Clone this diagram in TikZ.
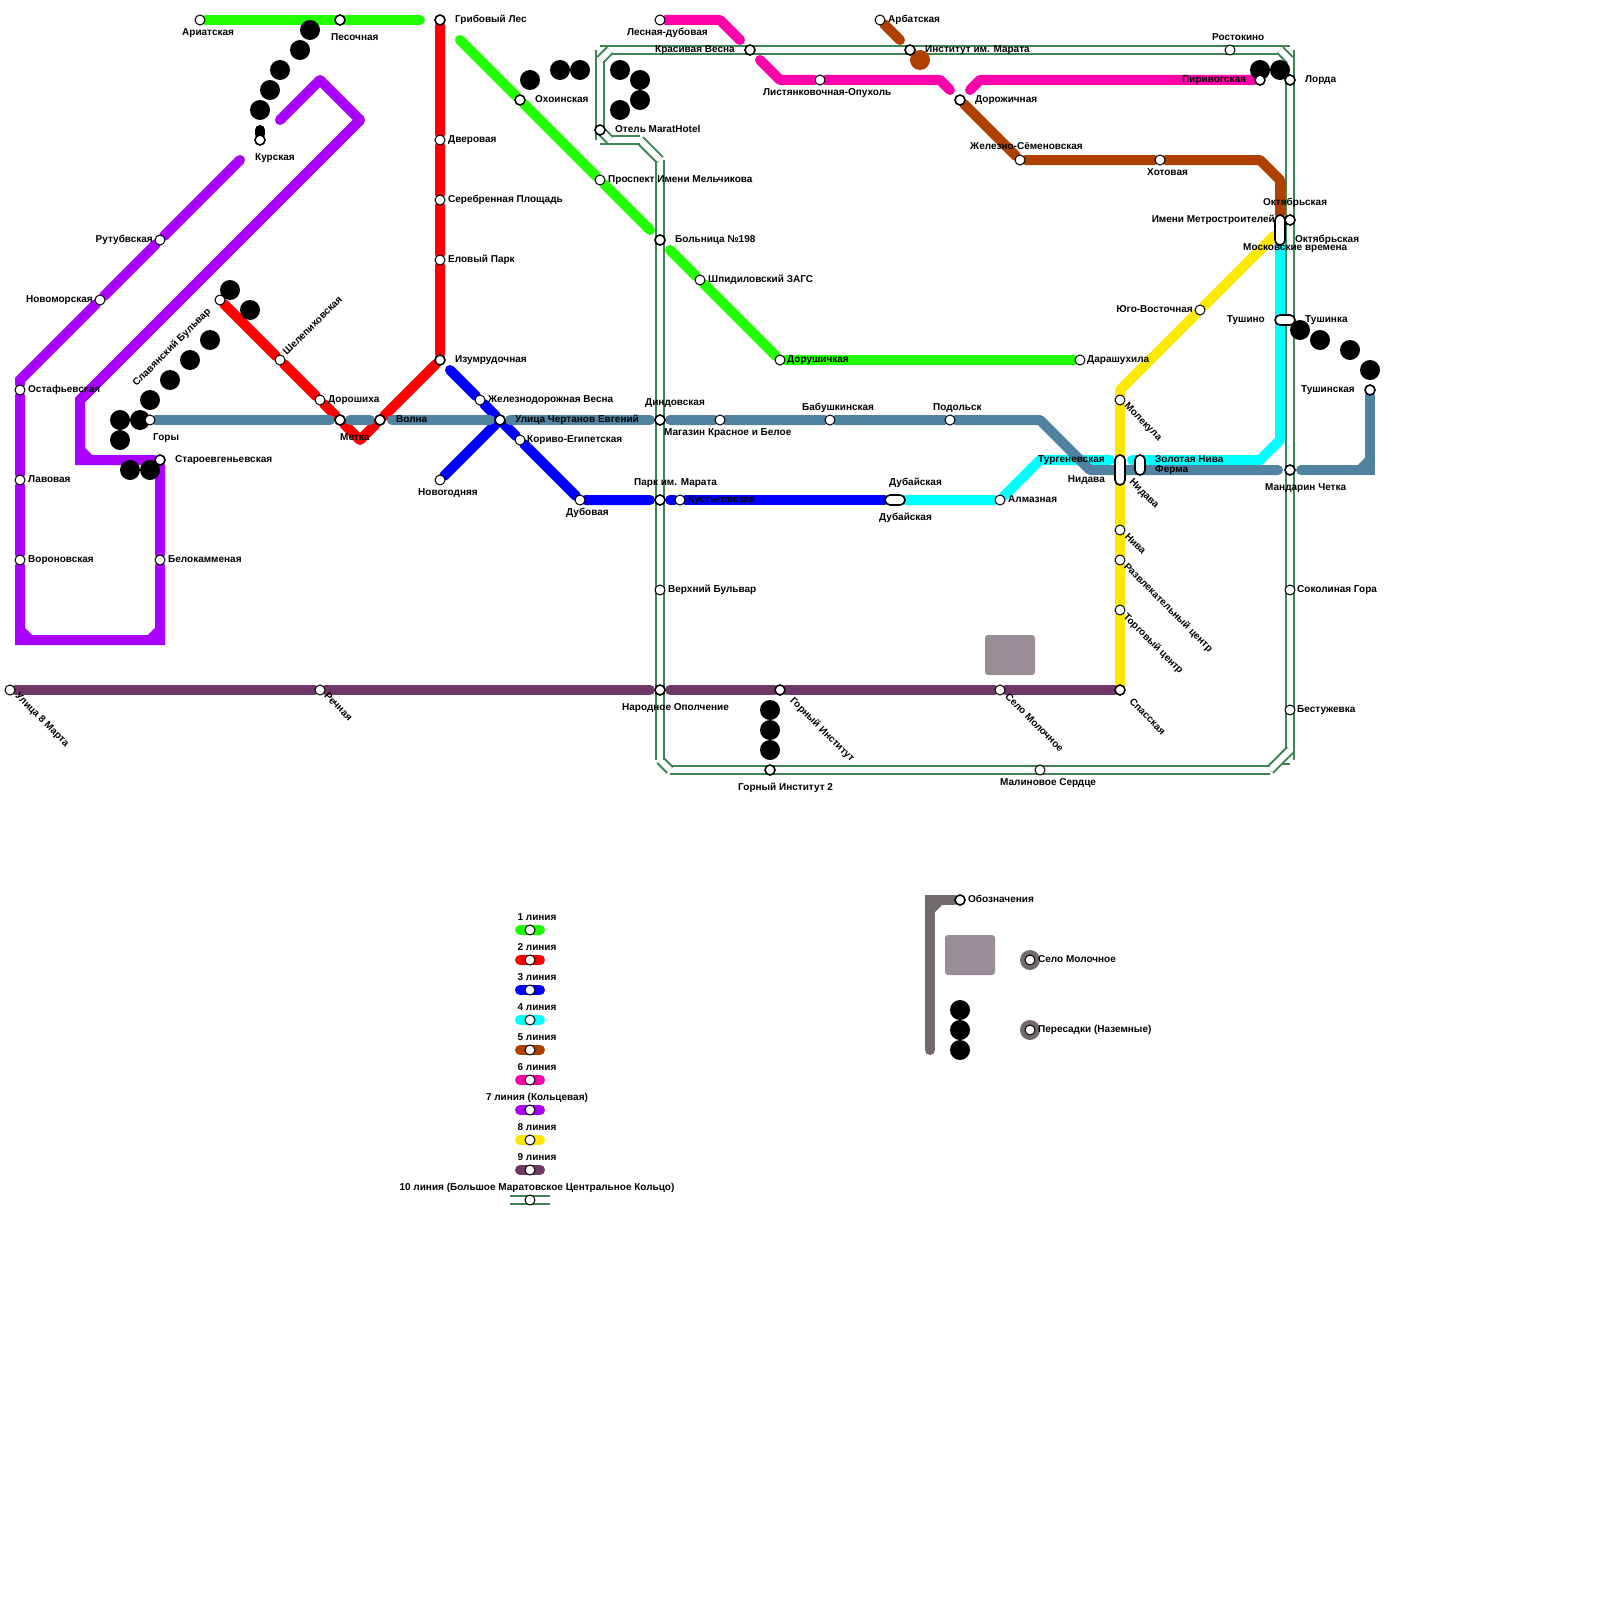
\documentclass[tikz,border=0pt]{standalone}
\usepackage{fontspec}
\setmainfont{Liberation Sans}
\definecolor{lgreen}{HTML}{22FF00}
\definecolor{lred}{HTML}{FF0000}
\definecolor{lblue}{HTML}{0000FF}
\definecolor{lcyan}{HTML}{00FFFF}
\definecolor{lbrown}{HTML}{AE4000}
\definecolor{lpink}{HTML}{FF00AA}
\definecolor{lpurple}{HTML}{AA00FF}
\definecolor{lyellow}{HTML}{FFE800}
\definecolor{lplum}{HTML}{6E3868}
\definecolor{lsteel}{HTML}{4F83A0}
\definecolor{lring}{HTML}{3E8556}
\definecolor{lgrey}{HTML}{736B6B}
\definecolor{lzone}{HTML}{998E95}
\pgfdeclarelayer{lines}
\pgfdeclarelayer{dots}
\pgfsetlayers{lines,dots,main}
\begin{document}
\begin{tikzpicture}[x=1pt,y=-1pt,
    stn/.style={circle,draw=black,fill=white,line width=1pt,minimum size=10pt,inner sep=0pt},
    xfer/.style={stn,line width=1.6pt,minimum size=10pt},
    pill/.style={rectangle,draw=black,fill=white,line width=1.6pt,rounded corners=5pt,inner sep=0pt},
    dotb/.style={circle,fill=black,minimum size=20pt,inner sep=0pt},
    ln/.style={line width=10pt,line cap=round,line join=round},
    ringl/.style={draw=lring,line width=2pt,double=white,double distance=6pt},
    lbl/.style={font=\fontsize{10}{12}\selectfont\bfseries,inner sep=0pt}]
  \useasboundingbox (0,0) rectangle (1600,1600);
  % plain stations
  \foreach \n/\x/\y in {ariat/200/20,rutub/160/240,novom/100/300,ostaf/20/390,lavov/20/480,voron/20/560,
      belok/160/560,gory/150/420,dver/440/140,serebr/440/200,elov/440/260,dorosh/320/400,shelep/280/360,
      slav/220/300,novog/440/480,zhelez/480/400,koriv/520/440,dubov/580/500,kust/680/500,magaz/720/420,
      babush/830/420,podol/950/420,prosp/600/180,shpid/700/280,dorush/780/360,darash/1080/360,
      lesn/660/20,arbat/880/20,listy/820/80,zhsem/1020/160,hotov/1160/160,rostok/1230/50,yugov/1200/310,
      molek/1120/400,niva/1120/530,razvl/1120/560,torg/1120/610,almaz/1000/500,ul8m/10/690,rechn/320/690,
      selo/1000/690,verkh/660/590,sokol/1290/590,bestu/1290/710,malin/1040/770}
    \node[stn] (\n) at (\x,\y) {};
  % transfer stations
  \foreach \n/\x/\y in {pesoch/340/20,grib/440/20,kursk/260/140,staro/160/460,metka/340/420,volna/380/420,
      izum/440/360,ulch/500/420,ohoin/520/100,otel/600/130,bolnic/660/240,dind/660/420,parkm/660/500,
      narod/660/690,krasv/750/50,instm/910/50,dorozh/960/100,piriv/1260/80,lorda/1290/80,oktb/1290/220,
      mandar/1290/470,tushi/1370/390,spass/1120/690,gorn/780/690,gorn2/770/770,oboz/960/900}
    \node[xfer] (\n) at (\x,\y) {};
  % long stations
  \node[pill,minimum width=20pt,minimum height=10pt] (dubai) at (895,500) {};
  \node[pill,minimum width=10pt,minimum height=30pt] (nid1) at (1120,470) {};
  \node[pill,minimum width=10pt,minimum height=20pt] (nid2) at (1140,465) {};
  \node[pill,minimum width=10pt,minimum height=30pt] (metro) at (1280,230) {};
  \node[pill,minimum width=20pt,minimum height=10pt] (tush) at (1285,320) {};
  % free ends and bends
  \foreach \n/\x/\y in {g1/420/20,g2/460/40,g3/650/230,g4/670/250,
      r1/360/440,
      b1/450/370,b2/650/500,b3/670/500,
      c1/1040/460,c2/1110/460,c3/1132/460,c4/1260/460,c5/1280/440,
      br1/900/40,br2/1260/160,br3/1280/180,
      k1/720/20,k2/740/40,k3/760/60,k4/780/80,k5/940/80,k6/950/90,k7/970/90,k8/980/80,
      v1/240/160,v2/20/380,v3/20/640,v4/160/640,v5/80/460,v6/80/400,v7/360/120,v8/320/80,v9/280/120,
      va/20/630,vb/30/640,vc/150/640,vd/160/630,ve/80/450,vf/90/460,
      y1/1120/390,
      s1/330/420,s2/350/420,s3/370/420,s4/392/420,s5/490/420,s6/510/420,s7/650/420,s8/670/420,
      s9/1040/420,s10/1090/470,s11/1278/470,s12/1301/470,s13/1370/470,s14/1360/470,s15/1370/460,
      pl1/650/690,pl2/670/690,
      kb/260/130,
      q1/600/50,q2/1290/50,q3/1290/760,q4/1280/760,q5/1290/750,q6/1270/770,q7/670/770,q8/660/760,
      q9/660/160,q10/640/140,q11/600/140,q12/610/50,q13/600/60,q14/600/130,q15/610/140,q16/1280/50,q17/1290/60,
      m1/930/1050,m2/930/900,m3/930/910,m4/940/900,
      w1/510/1200,w2/550/1200}
    \coordinate (\n) at (\x,\y);
  % the ring first, then the lines
  \begin{pgfonlayer}{lines}
    \draw[ringl] (q11)--(q1);
    \draw[ringl] (q1)--(q2);
    \draw[ringl] (q2)--(q3);
    \draw[ringl] (q16)--(q17);
    \draw[ringl] (q3)--(q4);
    \draw[ringl] (q5)--(q6);
    \draw[ringl] (q6)--(q7);
    \draw[ringl] (q7)--(q8);
    \draw[ringl] (q8)--(q9);
    \draw[ringl] (q9)--(q10);
    \draw[ringl] (q10)--(q11);
    \draw[ringl] (q12)--(q13);
    \draw[ringl] (q14)--(q15);
    \fill[lzone,rounded corners=3pt] (985,635) rectangle (1035,675);
    \fill[lzone,rounded corners=3pt] (945,935) rectangle (995,975);
    \draw[ln,lcyan] (dubai)--(almaz)--(c1)--(c2);
    \draw[ln,lcyan] (c3)--(c4)--(c5)--(metro);
    \draw[ln,lgreen] (ariat)--(pesoch)--(g1);
    \draw[ln,lgreen] (g2)--(ohoin)--(prosp)--(g3);
    \draw[ln,lgreen] (g4)--(shpid)--(dorush)--(darash);
    \draw[ln,lred] (grib)--(dver)--(serebr)--(elov)--(izum)--(volna)--(r1)--(metka)--(dorosh)--(shelep)--(slav);
    \draw[ln,lblue] (b1)--(zhelez)--(ulch)--(koriv)--(dubov)--(b2);
    \draw[ln,lblue] (novog)--(ulch);
    \draw[ln,lblue] (b3)--(kust)--(dubai);
    \draw[ln,lbrown] (arbat)--(br1);
    \draw[ln,lbrown] (dorozh)--(zhsem)--(hotov)--(br2)--(br3)--(metro);
    \draw[ln,lpink] (lesn)--(k1)--(k2);
    \draw[ln,lpink] (k3)--(k4)--(listy)--(k5)--(k6);
    \draw[ln,lpink] (k7)--(k8)--(piriv);
    \draw[ln,lpurple,line join=miter] (v1)--(rutub)--(novom)--(v2)--(ostaf)--(lavov)--(voron)--(v3)--(v4)--(belok)--(staro)--(v5)--(v6)--(v7);
    \draw[ln,lpurple] (v6)--(v7)--(v8)--(v9);
    \draw[ln,lpurple] (va)--(vb) (vc)--(vd) (ve)--(vf);
    \draw[ln,lsteel] (gory)--(s1);
    \draw[ln,lsteel] (s2)--(s3);
    \draw[ln,lsteel] (s4)--(s5);
    \draw[ln,lsteel] (s6)--(s7);
    \draw[ln,lsteel] (s8)--(magaz)--(babush)--(podol)--(s9)--(s10)--(s11);
    \draw[ln,lsteel,line join=miter] (s12)--(s13)--(tushi);
    \draw[ln,lsteel] (s14)--(s15);
    \draw[ln,lyellow] (spass)--(torg)--(razvl)--(niva)--(nid1)--(molek)--(y1)--(yugov)--(metro);
    \draw[ln,lplum] (ul8m)--(rechn)--(pl1);
    \draw[ln,lplum] (pl2)--(gorn)--(selo)--(spass);
    \draw[ln,black] (kb)--(kursk);
    \draw[ln,lgrey,line join=miter] (m1)--(m2)--(oboz);
    \draw[ln,lgrey] (m3)--(m4);
  \end{pgfonlayer}
  % the unfinished stretches, shown as bare dots
  \begin{pgfonlayer}{dots}
    \foreach \x/\y [count=\i] in {310/30,300/50,280/70,270/90,260/110,230/290,250/310,210/340,190/360,170/380,
        150/400,140/420,120/420,120/440,130/470,150/470,530/80,560/70,580/70,620/70,640/80,640/100,620/110,
        1260/70,1280/70,1300/330,1320/340,1350/350,1370/370,770/710,770/730,770/750,960/1010,960/1030,960/1050}
      \node[dotb] (d\i) at (\x,\y) {};
    \node[dotb,fill=lbrown] (dbr) at (920,60) {};
    \node[dotb,fill=lgrey] (gnd1) at (1030,960) {};
    \node[dotb,fill=lgrey] (gnd2) at (1030,1030) {};
  \end{pgfonlayer}
  \node[stn] (sgnd1) at (1030,960) {};
  \node[stn] (sgnd2) at (1030,1030) {};
  % legend
  \foreach \i/\y/\c in {1/930/lgreen,2/960/lred,3/990/lblue,4/1020/lcyan,5/1050/lbrown,6/1080/lpink,
      7/1110/lpurple,8/1140/lyellow,9/1170/lplum}{
    \coordinate (la\i) at (520,\y);
    \coordinate (lb\i) at (540,\y);
    \begin{pgfonlayer}{lines}
      \draw[ln,\c] (la\i)--(lb\i);
    \end{pgfonlayer}
  }
  \begin{pgfonlayer}{lines}
    \draw[ringl] (w1)--(w2);
  \end{pgfonlayer}
  \foreach \i/\y in {1/930,2/960,3/990,4/1020,5/1050,6/1080,7/1110,8/1140,9/1170,10/1200}
    \node[stn] (lg\i) at (530,\y) {};
  \foreach \i/\y/\txt in {1/917/1 линия,2/947/2 линия,3/977/3 линия,4/1007/4 линия,5/1037/5 линия,6/1067/6 линия,
      7/1097/7 линия (Кольцевая),8/1127/8 линия,9/1157/9 линия,10/1187/10 линия (Большое Маратовское Центральное Кольцо)}
    \node[lbl,anchor=mid,yshift=-1pt] (lt\i) at (537,\y) {\txt};
  % names, left aligned
  \foreach \n/\x/\y/\txt in {ariat/182/32/Ариатская,pesoch/331/37/Песочная,grib/455/19/Грибовый Лес,kursk/255/157/Курская,
      ostaf/28/389/Остафьевская,lavov/28/479/Лавовая,voron/28/559/Вороновская,belok/168/559/Белокамменая,
      staro/175/459/Староевгеньевская,gory/153/437/Горы,dver/448/139/Дверовая,serebr/448/199/Серебренная Площадь,
      elov/448/259/Еловый Парк,izum/455/359/Изумрудочная,zhelez/488/399/Железнодорожная Весна,dorosh/328/399/Дорошиха,
      volna/396/419/Волна,metka/340/437/Метка,novog/418/492/Новогодняя,lesn/627/32/Лесная-дубовая,arbat/888/19/Арбатская,
      krasv/655/49/Красивая Весна,instm/925/49/Институт им. Марата,ohoin/535/99/Охоинская,otel/615/129/Отель MaratHotel,
      listy/763/92/Листянковочная-Опухоль,dorozh/975/99/Дорожичная,prosp/608/179/Проспект Имени Мельчикова,
      bolnic/675/239/Больница №198,shpid/708/279/Шпидиловский ЗАГС,dorush/787/359/Дорушичкая,dind/645/402/Диндовская,
      ulch/515/419/Улица Чертанов Евгений,magaz/664/432/Магазин Красное и Белое,babush/802/407/Бабушкинская,
      podol/933/407/Подольск,koriv/527/439/Кориво-Египетская,parkm/634/482/Парк им. Марата,dubaia/889/482/Дубайская,
      dubaib/879/517/Дубайская,dubov/566/512/Дубовая,kust/688/499/Кустьковская,verkh/668/589/Верхний Бульвар,
      narod/622/707/Народное Ополчение,gorn2/738/787/Горный Институт 2,rostok/1212/37/Ростокино,piriv/1182/79/Пиривогская,
      lorda/1305/79/Лорда,zhsem/970/146/Железно-Сёменовская,hotov/1147/172/Хотовая,oktb/1263/202/Октябрьская,
      oktc/1295/239/Октябрьская,mosk/1243/247/Московские времена,tushb/1305/319/Тушинка,darash/1087/359/Дарашухила,
      turg/1038/459/Тургеневская,zolot/1155/459/Золотая Нива,ferma/1155/469/Ферма,almaz/1008/499/Алмазная,
      mandar/1265/487/Мандарин Четка,sokol/1297/589/Соколиная Гора,bestu/1297/709/Бестужевка,malin/1000/782/Малиновое Сердце,
      oboz/968/899/Обозначения,gsel/1038/959/Село Молочное,gper/1038/1029/Пересадки (Наземные)}
    \node[lbl,anchor=mid west,yshift=-1pt] (t\n) at (\x,\y) {\txt};
  % names, right aligned
  \foreach \n/\x/\y/\txt in {rutub/153/239/Рутубвская,novom/93/299/Новоморская,metro/1275/219/Имени Метростроителей,
      yugov/1193/309/Юго-Восточная,tush/1265/319/Тушино,tushi/1355/389/Тушинская,nid1/1105/479/Нидава}
    \node[lbl,anchor=mid east,yshift=-1pt] (t\n) at (\x,\y) {\txt};
  % names at a slant
  \node[lbl,anchor=mid,rotate=45] (tslav) at (172,347.5) {Славянский Бульвар};
  \node[lbl,anchor=mid,rotate=45] (tshelep) at (313,326) {Шелепиховская};
  \foreach \n/\x/\y/\txt in {ul8m/42/720/Улица 8 Марта,rechn/338/707/Речная,gorn/822/730/Горный Институт,
      molek/1143/422/Молекула,nid2/1144/494/Нидава,niva/1135/544/Нива,razvl/1168/608/Развлекательный центр,
      torg/1153/644/Торговый центр,spass/1147/717/Спасская,selo/1034/723/Село Молочное}
    \node[lbl,anchor=mid,rotate=-45] (t\n) at (\x,\y) {\txt};
\end{tikzpicture}
\end{document}
